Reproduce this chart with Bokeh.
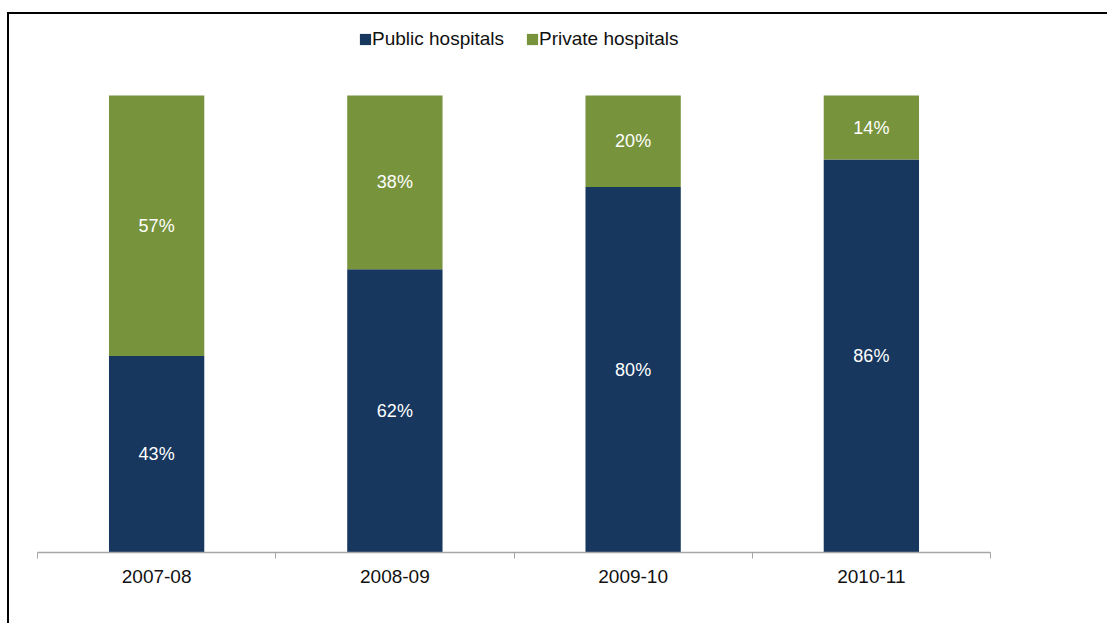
from bokeh.plotting import figure
from bokeh.models import ColumnDataSource, Range1d, FixedTicker, Legend, LegendItem, LabelSet
from bokeh.core.properties import value
from bokeh.embed import file_html
from bokeh.resources import INLINE

years = ["2007-08", "2008-09", "2009-10", "2010-11"]
public = [43, 62, 80, 86]
private = [57, 38, 20, 14]

xs = [i + 0.5 for i in range(len(years))]
pub_frac = [v / 100 for v in public]
priv_frac = [v / 100 for v in private]

src = ColumnDataSource(dict(
    x=xs,
    public=pub_frac,
    private=priv_frac,
    pub_mid=[a / 2 for a in pub_frac],
    priv_mid=[a + b / 2 for a, b in zip(pub_frac, priv_frac)],
    pub_lbl=[f"{v}%" for v in public],
    priv_lbl=[f"{v}%" for v in private],
))

NAVY = "#17375E"
GREEN = "#77933C"
FONT = "Liberation Sans"

p = figure(width=1100, height=611, output_backend="svg", toolbar_location=None,
           x_range=Range1d(0, len(years)), y_range=Range1d(0, 1.16),
           min_border_left=28, min_border_right=119, min_border_top=8, min_border_bottom=73)
p.styles = {"border-top": "2px solid black", "border-left": "2px solid black",
            "margin-top": "12px", "margin-left": "7px"}

r = p.vbar_stack(["public", "private"], x="x", width=0.4, source=src,
                 color=[NAVY, GREEN], line_color=None)

for col, ycol in (("pub_lbl", "pub_mid"), ("priv_lbl", "priv_mid")):
    p.add_layout(LabelSet(x="x", y=ycol, text=col, source=src, text_color="white",
                          text_font=value(FONT), text_font_size="18px",
                          text_align="center", text_baseline="middle"))

p.yaxis.visible = False
p.xgrid.visible = False
p.ygrid.visible = False
p.outline_line_color = None

ax = p.xaxis[0]
ax.ticker = FixedTicker(ticks=xs, minor_ticks=list(range(len(years) + 1)))
ax.major_label_overrides = {x: y for x, y in zip(xs, years)}
ax.major_tick_line_color = None
ax.minor_tick_in = 0
ax.minor_tick_out = 6
ax.minor_tick_line_color = "#A6A6A6"
ax.axis_line_color = "#A6A6A6"
ax.axis_line_width = 1.5
ax.major_label_text_font = FONT
ax.major_label_text_font_size = "19px"
ax.major_label_text_color = "#111111"
ax.major_label_standoff = 11

legend = Legend(items=[LegendItem(label="Public hospitals", renderers=[r[0]]),
                       LegendItem(label="Private hospitals", renderers=[r[1]])],
                orientation="horizontal", location=(321, 502),
                glyph_width=14, glyph_height=14, label_standoff=0, spacing=21,
                label_text_font=FONT, label_text_font_size="19px",
                label_text_color="#111111", border_line_color=None,
                background_fill_alpha=0, margin=0, padding=2)
p.add_layout(legend)

open("out.html", "w").write(file_html(p, INLINE))
